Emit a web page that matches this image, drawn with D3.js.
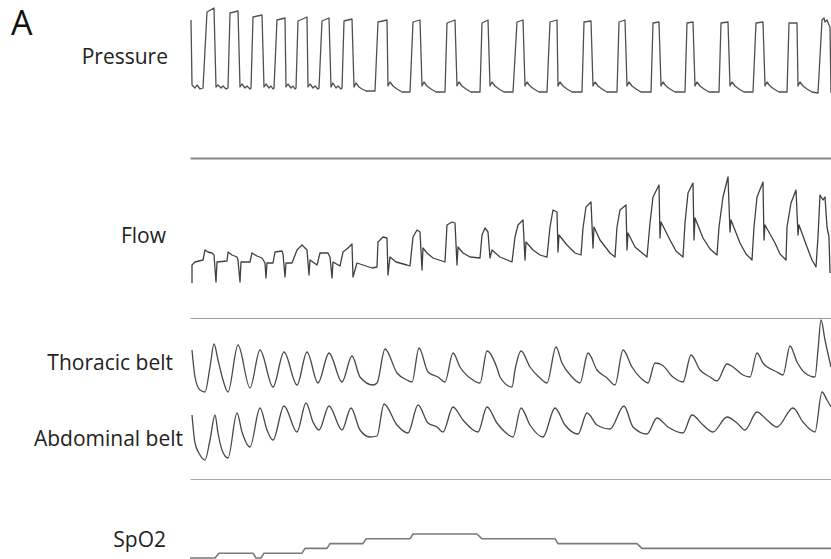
<!DOCTYPE html>
<html>
<head>
<meta charset="utf-8">
<script src="https://cdn.jsdelivr.net/npm/d3@7/dist/d3.min.js"></script>
<style>
  html, body { margin: 0; padding: 0; background: #fff; }
  svg { display: block; }
</style>
</head>
<body>
<svg id="chart" width="831" height="559"></svg>
<script>
// Polysomnography excerpt: time in seconds, one [t, value] pair per sample point.

// Mask pressure, cmH2O
const pressure = [
  [0.1,20],[0.2,7],[0.5,6.4],[0.7,7],[1.0,6.2],[1.3,6.4],
  [1.7,21.6],[2.4,22.4],[2.6,6.6],[2.8,7],[3.1,6.4],[3.3,6.8],[3.6,6.2],[3.8,6.4],
  [4.0,21.4],[4.8,21.8],[5.0,6.6],[5.2,7.2],[5.5,6.4],[5.7,6.8],[6.0,6.2],[6.1,6.4],
  [6.3,20.6],[7.2,21],[7.4,6.6],[7.6,7.2],[7.9,6.4],[8.1,6.8],[8.3,6.2],[8.4,6.4],
  [8.7,20],[9.5,20.4],[9.6,6.6],[9.8,7.2],[10.1,6.4],[10.3,6.8],[10.5,6.2],[10.6,6.4],
  [10.8,19.8],[11.7,20.6],[11.8,6.6],[12.0,7.2],[12.3,6.4],[12.5,6.8],[12.8,6.2],[12.9,6.4],
  [13.2,19.8],[13.9,20.4],[14.1,6.6],[14.3,7.4],[14.6,6.4],[14.8,6.8],[15.1,6.2],[15.2,6.4],
  [15.4,19.8],[16.2,20.2],[16.4,6.6],[16.6,7.4],[16.9,6.6],[17.2,6.2],[17.6,5.8],[18.5,5.8],
  [18.8,19.6],[19.7,20],[19.8,6.8],[20.0,7.6],[20.3,6.8],[20.7,6.2],[21.2,5.6],[22.0,5.6],
  [22.3,19.6],[23.0,20],[23.2,6.8],[23.4,7.6],[23.7,6.8],[24.1,6.2],[24.6,5.6],[25.5,5.6],
  [25.7,19.4],[26.5,20],[26.7,6.8],[26.9,7.6],[27.2,6.8],[27.6,6.2],[28.1,5.6],[29.0,5.6],
  [29.2,19.4],[29.8,20],[30.0,6.8],[30.2,7.6],[30.5,6.8],[30.9,6.2],[31.4,5.6],[32.3,5.6],
  [32.7,19.6],[33.3,20],[33.5,6.8],[33.7,7.6],[34.0,6.8],[34.4,6.2],[34.9,5.6],[35.7,5.6],
  [36.0,19.6],[36.7,20],[36.8,6.8],[37.0,7.6],[37.3,6.8],[37.7,6.2],[38.2,5.6],[39.2,5.6],
  [39.4,19.6],[40.1,19.8],[40.3,6.8],[40.5,7.6],[40.8,6.8],[41.2,6.2],[41.7,5.6],[42.7,5.6],
  [42.9,19.6],[43.5,20],[43.7,6.8],[43.9,7.6],[44.2,6.8],[44.6,6.2],[45.1,5.6],[46.1,5.6],
  [46.3,19.4],[46.9,19.6],[47.1,6.8],[47.3,7.6],[47.6,6.8],[48.0,6.2],[48.5,5.6],[49.5,5.6],
  [49.7,19.4],[50.3,19.6],[50.5,6.8],[50.7,7.6],[51.0,6.8],[51.4,6.2],[51.9,5.6],[52.9,5.6],
  [53.1,19.4],[53.8,19.6],[54.0,6.8],[54.2,7.6],[54.5,6.8],[54.9,6.2],[55.4,5.6],[56.3,5.6],
  [56.6,19.4],[57.3,19.6],[57.5,6.8],[57.7,7.6],[58.0,6.8],[58.4,6.2],[58.9,5.6],[59.7,5.6],
  [59.9,19.4],[60.7,19.4],[60.8,6.8],[61.0,7.6],[61.3,6.8],[61.7,6.2],[62.2,5.6],[62.8,5.4],
  [63.2,20],[63.4,20.4],[63.5,19.6],[63.7,20],[63.9,19],[64.0,18.6],[64.1,5.4]
];

// Airflow, L/s
const flow = [
  [0.2,-0.42],[0.2,-0.06],[0.5,0],[1.3,0.04],[1.5,0.24],[1.8,0.2],[2.2,0.18],[2.4,0.14],
  [2.6,-0.4],[2.7,0],[3.7,0.02],[3.8,0.2],[4.2,0.14],[4.7,0.1],[4.8,0.04],
  [5.0,-0.4],[5.1,0],[6.0,0],[6.2,0.18],[6.7,0.12],[7.2,0.08],[7.5,-0.02],
  [7.6,-0.32],[7.7,-0.02],[8.3,-0.02],[8.5,0.2],[9.2,0.22],[9.3,0.16],
  [9.5,-0.3],[9.6,-0.02],[10.2,-0.02],[10.7,0.24],[11.2,0.34],[11.7,0.24],
  [11.9,-0.26],[12.0,0.04],[12.7,-0.06],[13.0,0.18],[13.8,0.18],[14.0,0.1],
  [14.2,-0.32],[14.3,0],[15.0,-0.08],[15.3,0.2],[15.8,0.28],[16.2,0.36],
  [16.3,-0.3],[16.7,-0.02],[18.2,-0.12],[18.7,-0.1],[18.8,0.4],[19.3,0.5],[19.7,0.48],
  [19.8,-0.26],[20.0,0.1],[20.6,0.0],[21.7,-0.06],[22.0,-0.08],[22.3,0.5],[22.7,0.64],[23.0,0.6],
  [23.2,-0.16],[23.3,0.28],[23.7,0.18],[24.3,0.08],[25.5,0],[25.7,0.74],[26.2,0.8],[26.5,0.78],
  [26.7,-0.06],[26.8,0.3],[27.3,0.18],[28.0,0.1],[29.0,0.08],[29.2,0.54],[29.5,0.68],[29.8,0.6],
  [30.0,0.08],[30.2,0.24],[31.0,0.1],[32.2,0],[32.5,0.5],[32.8,0.74],[33.3,0.84],
  [33.5,0.04],[33.6,0.4],[34.3,0.24],[35.0,0.14],[35.7,0.1],[36.0,0.7],[36.3,1.04],[36.7,1.0],
  [36.8,0.2],[36.9,0.54],[37.7,0.34],[38.5,0.18],[39.1,0.14],[39.3,0.68],[39.6,1.1],[40.1,1.2],
  [40.3,0.28],[40.4,0.7],[41.0,0.44],[42.0,0.18],[42.5,0.1],[42.7,0.7],[43.0,1.04],[43.6,1.14],
  [43.7,0.24],[43.8,0.58],[44.5,0.3],[45.7,0.1],[46.0,0.78],[46.3,1.3],[46.9,1.54],
  [47.0,0.48],[47.1,0.8],[48.0,0.44],[48.6,0.22],[49.3,0.1],[49.5,0.78],[49.8,1.38],[50.3,1.58],
  [50.4,0.44],[50.5,0.88],[51.3,0.48],[52.0,0.26],[52.7,0.14],[52.9,0.7],[53.3,1.3],[53.8,1.7],
  [54.0,0.6],[54.1,0.84],[55.0,0.38],[55.6,0.16],[56.2,0.04],[56.4,0.7],[56.7,1.3],[57.3,1.6],
  [57.4,0.44],[57.5,0.74],[58.5,0.38],[59.0,0.16],[59.6,0.04],[59.7,0.7],[60.1,1.18],[60.6,1.44],
  [60.8,0.54],[60.9,0.74],[61.7,0.3],[62.2,0.04],[62.6,-0.1],[62.8,0.5],[63.0,1.34],[63.3,1.24],
  [63.5,1.3],[63.7,0.7],[63.9,0.5],[64.0,-0.22]
];

// Thoracic effort belt, arbitrary units
const thoracic = [
  [0.2,5.0],[0.5,2.3],[1.0,1.0],[1.5,0.8],[2.0,3.3],[2.4,5.6],[2.8,4.0],[3.3,2.0],[3.8,0.8],
  [4.8,5.5],[6.0,1.2],[7.0,5.0],[8.3,1.3],[9.4,4.8],[10.7,1.5],[11.7,4.8],[12.8,1.7],
  [13.9,4.7],[15.2,1.8],[16.2,4.4],[17.0,2.3],[18.3,1.5],[18.7,1.7],[19.5,5.1],[20.7,2.7],
  [21.7,2.0],[22.2,1.8],[22.9,5.2],[23.8,2.8],[24.8,2.3],[25.5,1.8],[26.3,4.7],[27.0,3.3],
  [28.3,2.0],[29.0,1.7],[29.7,4.9],[30.7,3.2],[31.0,2.3],[32.2,1.3],[32.5,3.0],[33.1,4.9],
  [34.0,3.3],[35.0,2.2],[35.7,1.7],[36.6,5.3],[37.2,3.7],[38.2,2.3],[39.0,1.7],[39.8,4.7],
  [40.7,3.0],[41.7,2.2],[42.5,1.5],[43.3,5.0],[44.2,3.3],[45.3,2.0],[45.8,1.7],[46.5,3.7],
  [47.2,3.5],[48.3,2.3],[49.3,1.8],[50.1,4.5],[51.0,3.0],[52.0,2.3],[52.7,1.9],[53.7,3.6],
  [54.3,3.3],[55.3,2.5],[56.0,2.3],[56.7,4.7],[57.3,3.7],[58.7,2.8],[59.3,2.5],[60.0,5.4],
  [60.7,3.8],[61.5,2.7],[62.5,2.3],[62.8,5.0],[63.1,8.0],[63.5,6.0],[64.1,3.3]
];

// Abdominal effort belt, arbitrary units
const abdominal = [
  [0.2,5.5],[0.5,2.7],[1.0,1.5],[1.5,1.0],[2.0,3.0],[2.5,5.5],[2.8,3.7],[3.2,2.0],[3.8,1.2],
  [4.7,5.7],[5.2,3.8],[6.0,2.3],[7.0,6.2],[7.7,4.0],[8.3,3.0],[9.4,6.4],[10.7,3.8],
  [11.6,6.7],[12.3,4.8],[12.9,4.0],[13.9,6.4],[15.2,4.0],[16.1,6.2],[17.0,4.0],[18.0,3.3],
  [18.7,3.4],[19.4,6.6],[20.7,4.5],[21.8,3.7],[22.8,6.5],[23.8,4.7],[24.7,4.3],[25.3,3.8],
  [26.3,6.3],[27.3,5.0],[28.8,3.8],[29.7,6.3],[30.7,4.7],[31.5,3.8],[32.3,3.3],[33.1,6.2],
  [34.0,4.5],[35.3,3.3],[36.5,6.2],[37.5,4.5],[38.8,3.6],[39.7,5.7],[40.7,4.5],[42.0,4.1],
  [43.4,6.4],[44.3,4.3],[45.7,3.6],[46.7,5.2],[47.8,4.3],[49.3,3.7],[50.2,5.5],[51.3,4.5],
  [52.3,3.8],[53.7,5.3],[54.7,4.7],[55.5,4.0],[56.7,5.8],[57.7,5.0],[58.7,4.3],[60.3,6.2],
  [61.3,4.8],[62.5,3.8],[63.2,7.8],[63.7,7.0],[64.1,6.3]
];

// Oxygen saturation, %
const spo2 = [
  [0,90],[2.5,90],[2.9,91],[6.3,91],[6.6,90],[7.1,90],[7.4,91],[11.2,91],[11.5,92],
  [13.7,92],[14.0,93],[17.3,93],[17.6,94],[22.0,94],[22.3,95],[28.7,95],[29.2,94],
  [36.5,94],[36.8,93],[44.7,93],[45.2,92],[64.1,92]
];

// Channel names
const channelLabels = ["Pressure", "Flow", "Thoracic belt", "Abdominal belt", "SpO2"];

const svg = d3.select("#chart");

const x = d3.scaleLinear().domain([0, 64.1]).range([190, 831]);

const yPressure = d3.scaleLinear().domain([0, 24]).range([120, 0]);
const yFlow     = d3.scaleLinear().domain([-2, 2]).range([362, 162]);
const yThoracic = d3.scaleLinear().domain([0, 10]).range([400, 300]);
const yAbdomen  = d3.scaleLinear().domain([0, 10]).range([470, 370]);
const ySpO2     = d3.scaleLinear().domain([90, 100]).range([558, 510]);

// Channel dividers drawn as bare time axes
const dividers = [
  { y: 158, stroke: "#8a8a8a", width: 2 },
  { y: 318, stroke: "#9a9a9a", width: 1 },
  { y: 479, stroke: "#a8a8a8", width: 1 }
];
dividers.forEach(d => {
  const g = svg.append("g")
    .attr("transform", `translate(0,${d.y})`)
    .call(d3.axisBottom(x).tickValues([]).tickSizeOuter(0));
  g.select(".domain").attr("stroke", d.stroke).attr("stroke-width", d.width);
});

function trace(data, y, color, width, curve) {
  const line = d3.line()
    .x(d => x(d[0]))
    .y(d => y(d[1]))
    .curve(curve || d3.curveLinear);
  svg.append("path")
    .datum(data)
    .attr("d", line)
    .attr("fill", "none")
    .attr("stroke", color)
    .attr("stroke-width", width)
    .attr("stroke-linejoin", "round");
}

trace(pressure, yPressure, "#505050", 1.3);
trace(flow, yFlow, "#404040", 1.3);
trace(thoracic, yThoracic, "#484848", 1.3, d3.curveMonotoneX);
trace(abdominal, yAbdomen, "#484848", 1.3, d3.curveMonotoneX);
trace(spo2, ySpO2, "#7a7a7a", 1.6);

// Panel letter and channel names
svg.append("text")
  .attr("x", 11).attr("y", 35)
  .attr("font-family", "'Open Sans', sans-serif")
  .attr("font-size", 34)
  .attr("fill", "#111")
  .text("A");

const labelPos = [
  { x: 168, y: 64 },
  { x: 166, y: 243 },
  { x: 173, y: 370 },
  { x: 183, y: 446 },
  { x: 166, y: 547 }
];
svg.append("g").selectAll("text")
  .data(channelLabels)
  .join("text")
  .attr("x", (d, i) => labelPos[i].x)
  .attr("y", (d, i) => labelPos[i].y)
  .attr("text-anchor", "end")
  .attr("font-family", "'Open Sans', sans-serif")
  .attr("font-size", 21)
  .attr("fill", "#222")
  .text(d => d);
</script>
</body>
</html>
